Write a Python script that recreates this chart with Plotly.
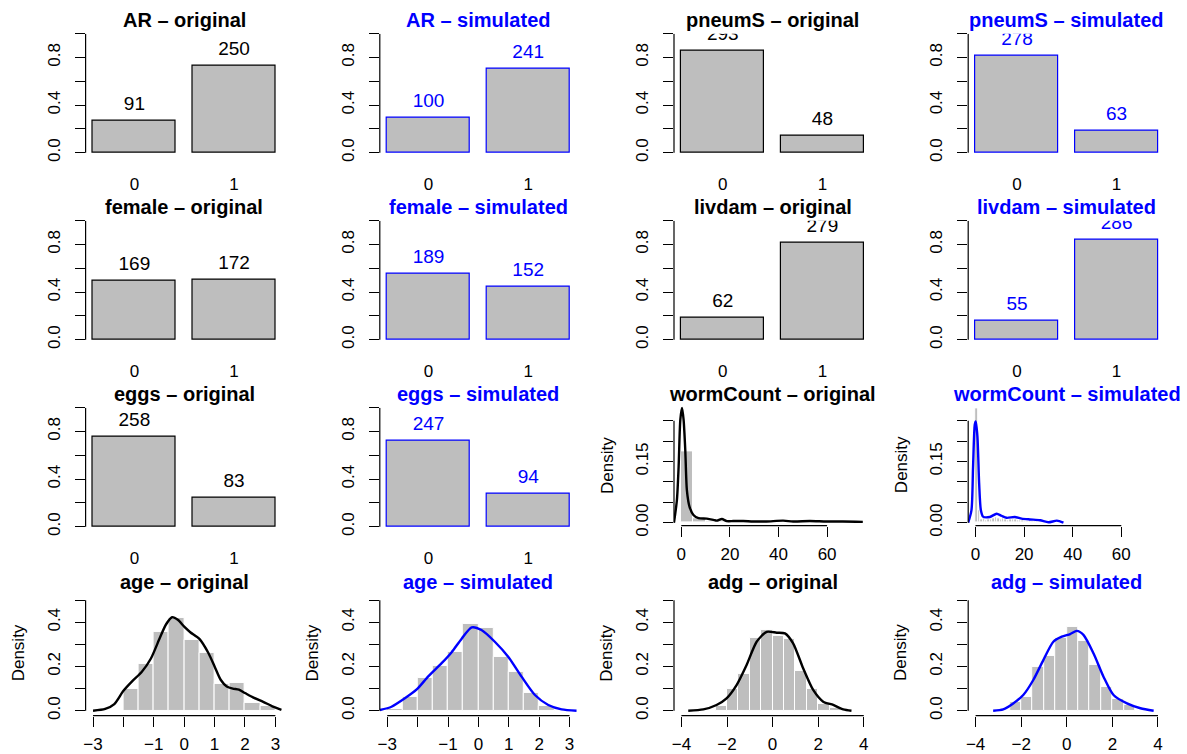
import plotly.graph_objects as go

# ---------------- data ----------------
levels = ["0", "1"]

AR_original = [91, 250]
AR_simulated = [100, 241]
pneumS_original = [293, 48]
pneumS_simulated = [278, 63]
female_original = [169, 172]
female_simulated = [189, 152]
livdam_original = [62, 279]
livdam_simulated = [55, 286]
eggs_original = [258, 83]
eggs_simulated = [247, 94]

# histogram breaks / densities
wormCount_original_breaks = [0, 5, 10, 15, 20, 25, 30, 35, 40, 45, 50, 55, 60, 65, 70, 75]
wormCount_original_hist = [0.174, 0.010, 0.004, 0.004, 0.002, 0.001, 0.0006, 0.0006,
                           0.0012, 0.0006, 0.0006, 0.0006, 0.0003, 0.0003, 0.0003]
wormCount_simulated_breaks = list(range(0, 37))
wormCount_simulated_hist = [0.281, 0.030, 0.008, 0.010, 0.006, 0.009, 0.007, 0.010, 0.012,
                            0.011, 0.009, 0.010, 0.007, 0.006, 0.009, 0.008, 0.009, 0.006,
                            0.005, 0.006, 0.004, 0.004, 0.005, 0.003, 0.003, 0.003, 0.003,
                            0.002, 0.001, 0.001, 0.002, 0.002, 0.003, 0.002, 0.001, 0.001]
age_original_breaks = [-2.0, -1.5, -1.0, -0.5, 0.0, 0.5, 1.0, 1.5, 2.0, 2.5, 3.0]
age_original_hist = [0.098, 0.213, 0.356, 0.421, 0.320, 0.261, 0.119, 0.125, 0.033, 0.021]
age_simulated_breaks = [-3.0, -2.5, -2.0, -1.5, -1.0, -0.5, 0.0, 0.5, 1.0, 1.5, 2.0, 2.5]
age_simulated_hist = [0.006, 0.063, 0.147, 0.202, 0.267, 0.392, 0.373, 0.244, 0.174, 0.079, 0.021]
adg_original_breaks = [-2.5, -2.0, -1.5, -1.0, -0.5, 0.0, 0.5, 1.0, 1.5, 2.0, 2.5, 3.0]
adg_original_hist = [0.021, 0.098, 0.166, 0.330, 0.365, 0.339, 0.324, 0.180, 0.098, 0.029, 0.011]
adg_simulated_breaks = [-2.5, -2.0, -1.5, -1.0, -0.5, 0.0, 0.5, 1.0, 1.5, 2.0, 2.5, 3.0]
adg_simulated_hist = [0.041, 0.063, 0.196, 0.248, 0.328, 0.377, 0.315, 0.207, 0.109, 0.052, 0.026]

# kernel density curves
wormCount_original_kde_x = [-3.0, -1.8, -1.1, -0.4, 0.3, 0.95, 1.64, 2.3, 3.4, 5.0, 7.1, 10.5,
                            13.2, 14.6, 16.7, 18.7, 21.4, 25.5, 29.6, 35.0, 41.9, 46.0, 52.9,
                            59.7, 66.5, 74.7]
wormCount_original_kde_y = [0.0, 0.056, 0.137, 0.252, 0.281, 0.252, 0.178, 0.080, 0.039, 0.019,
                            0.011, 0.010, 0.007, 0.005, 0.009, 0.004, 0.004, 0.004, 0.003, 0.003,
                            0.005, 0.003, 0.004, 0.003, 0.003, 0.002]
wormCount_simulated_kde_x = [-3.0, -1.65, -1.0, -0.3, 0.1, 0.8, 1.5, 2.2, 3.1, 5.9, 8.7, 10.7,
                             12.8, 16.2, 19.0, 22.4, 26.6, 30.0, 33.5, 36.2]
wormCount_simulated_kde_y = [0.0, 0.031, 0.137, 0.240, 0.248, 0.211, 0.097, 0.031, 0.015, 0.014,
                             0.022, 0.017, 0.012, 0.014, 0.010, 0.008, 0.006, 0.001, 0.005, 0.0]
age_original_kde_x = [-3.0, -2.6, -2.3, -2.0, -1.7, -1.4, -1.1, -0.8, -0.6, -0.4, -0.2, 0.0,
                      0.2, 0.5, 0.8, 1.0, 1.2, 1.4, 1.6, 1.8, 2.0, 2.3, 2.6, 2.9, 3.2]
age_original_kde_y = [0.0, 0.008, 0.030, 0.090, 0.135, 0.175, 0.235, 0.330, 0.390, 0.423, 0.410,
                      0.380, 0.355, 0.325, 0.260, 0.200, 0.140, 0.110, 0.100, 0.095, 0.080,
                      0.058, 0.040, 0.020, 0.004]
age_simulated_kde_x = [-3.24, -2.86, -2.42, -2.03, -1.65, -1.21, -0.88, -0.55, -0.22, 0.1, 0.54,
                       0.98, 1.42, 1.86, 2.3, 2.74, 3.23]
age_simulated_kde_y = [0.003, 0.018, 0.056, 0.096, 0.155, 0.215, 0.265, 0.326, 0.377, 0.365, 0.312,
                       0.244, 0.154, 0.071, 0.026, 0.006, 0.0]
adg_original_kde_x = [-3.7, -3.04, -2.46, -2.02, -1.58, -1.14, -0.7, -0.26, 0.18, 0.54, 0.9, 1.34,
                      1.78, 2.22, 2.66, 3.1, 3.46]
adg_original_kde_y = [0.0, 0.006, 0.026, 0.056, 0.116, 0.207, 0.312, 0.357, 0.353, 0.350, 0.305,
                      0.192, 0.094, 0.041, 0.026, 0.006, 0.0]
adg_simulated_kde_x = [-3.23, -2.79, -2.35, -1.91, -1.47, -1.03, -0.59, -0.22, 0.15, 0.44, 0.73,
                       1.17, 1.61, 2.05, 2.64, 3.23, 3.81]
adg_simulated_kde_y = [0.0, 0.006, 0.033, 0.071, 0.139, 0.229, 0.312, 0.335, 0.347, 0.361, 0.343,
                       0.260, 0.154, 0.071, 0.033, 0.011, 0.0]

# axis ticks
bar_yticks = [0.0, 0.2, 0.4, 0.6, 0.8, 1.0]
bar_yticklabels = ["0.0", "", "0.4", "", "0.8", ""]
worm_xticks = [0, 20, 40, 60]
worm_xticklabels = ["0", "20", "40", "60"]
worm_yticks = [0.0, 0.05, 0.10, 0.15, 0.20, 0.25]
worm_yticklabels = ["0.00", "", "", "0.15", "", ""]
age_xticks = [-3, -2, -1, 0, 1, 2, 3]
age_xticklabels = ["\u22123", "", "\u22121", "0", "1", "2", "3"]
adg_xticks = [-4, -2, 0, 2, 4]
adg_xticklabels = ["\u22124", "\u22122", "0", "2", "4"]
dens_yticks = [0.0, 0.1, 0.2, 0.3, 0.4, 0.5]
dens_yticklabels = ["0.0", "", "0.2", "", "0.4", ""]

# ---------------- style / geometry ----------------
FIG_W, FIG_H = 1187, 754
COL_PITCH, ROW_PITCH = 294.2, 187.0
LEFT0, PLOT_W = 85.6, 197.2
GREY, BLUE, BLACK = "#BEBEBE", "#0000FF", "#000000"
FONT = "Liberation Sans, Arial, sans-serif"
AX_FS, TITLE_FS, VAL_FS = 17, 20, 19
LW = 1.2

fig = go.Figure()
layout = {}
shapes = []
annotations = []


def fx(p):
    return p / FIG_W


def fy(p):
    return 1 - p / FIG_H


def panel(r, c, yrange, top_px, bottom_px, xaxis_extra, yaxis_extra, title, color):
    n = r * 4 + c + 1
    sfx = "" if n == 1 else str(n)
    left = LEFT0 + c * COL_PITCH
    layout["xaxis" + sfx] = dict(domain=[fx(left), fx(left + PLOT_W)], anchor="y" + sfx,
                                 showgrid=False, zeroline=False, showline=False,
                                 automargin=False,
                                 tickfont=dict(family=FONT, size=AX_FS, color=BLACK),
                                 tickcolor=BLACK, tickwidth=LW, **xaxis_extra)
    layout["yaxis" + sfx] = dict(domain=[fy(bottom_px), fy(top_px)], anchor="x" + sfx,
                                 range=yrange, showgrid=False, zeroline=False, showline=False,
                                 automargin=False,
                                 ticks="outside", ticklen=10, tickcolor=BLACK, tickwidth=LW,
                                 tickangle=-90, ticklabelstandoff=8,
                                 tickfont=dict(family=FONT, size=AX_FS, color=BLACK),
                                 **yaxis_extra)
    annotations.append(dict(text="<b>" + title + "</b>", xref="paper", yref="paper",
                            x=fx(left + PLOT_W / 2), y=fy(20.5 + r * ROW_PITCH),
                            xanchor="center", yanchor="middle", showarrow=False,
                            font=dict(family=FONT, size=TITLE_FS, color=color)))
    yvals = yaxis_extra["tickvals"]
    shapes.append(dict(type="line", xref="x%s domain" % sfx, yref="y" + sfx,
                       x0=0, x1=0, y0=yvals[0], y1=yvals[-1],
                       line=dict(color=BLACK, width=LW)))
    return "x" + sfx, "y" + sfx, left, top_px, bottom_px


def bar_panel(r, c, name, counts, original):
    color = BLACK if original else BLUE
    total = sum(counts)
    props = [v / total for v in counts]
    zero = 152.7 + r * ROW_PITCH
    scale = 119.0
    ytop = 1.0
    top, bottom = zero - ytop * scale, zero + 0.04 * scale
    xr, yr, *_ = panel(r, c, [-0.04, ytop], top, bottom,
                       dict(type="category", range=[-0.49, 1.49], ticks="", ticklen=0,
                            ticklabelstandoff=15),
                       dict(tickvals=bar_yticks, ticktext=bar_yticklabels),
                       name + " \u2013 " + ("original" if original else "simulated"), color)
    fig.add_trace(go.Bar(x=levels, y=props, width=1 / 1.2, xaxis=xr, yaxis=yr,
                         marker=dict(color=GREY, line=dict(color=color, width=LW)),
                         hoverinfo="skip", showlegend=False))
    off = 15.5 / scale
    fig.add_trace(go.Scatter(x=levels, y=[p + off for p in props], text=[str(v) for v in counts],
                             mode="text", textposition="middle center", cliponaxis=True,
                             textfont=dict(family=FONT, size=VAL_FS, color=color),
                             xaxis=xr, yaxis=yr, hoverinfo="skip", showlegend=False))


def dens_panel(r, c, name, original, breaks, hist, kx, ky, xrange, xticks, xlabels,
               yticks, ylabels, zero, scale, bottom, ytop):
    color = BLACK if original else BLUE
    top = zero - ytop * scale
    yrange = [(zero - bottom) / scale, ytop]
    xr, yr, left, top, bottom = panel(
        r, c, yrange, top, bottom,
        dict(range=xrange, tickvals=xticks, ticktext=xlabels, ticks="outside", ticklen=10,
             ticklabelstandoff=3),
        dict(tickvals=yticks, ticktext=ylabels),
        name + " \u2013 " + ("original" if original else "simulated"), color)
    sfx = xr[1:]
    shapes.append(dict(type="line", xref=xr, yref="y%s domain" % sfx,
                       x0=xticks[0], x1=xticks[-1], y0=0, y1=0,
                       line=dict(color=BLACK, width=LW)))
    annotations.append(dict(text="Density", textangle=-90, xref="paper", yref="paper",
                            x=fx(18.5 + c * COL_PITCH), y=fy((top + bottom) / 2),
                            xanchor="center", yanchor="middle", showarrow=False,
                            font=dict(family=FONT, size=AX_FS, color=BLACK)))
    centers = [(a + b) / 2 for a, b in zip(breaks[:-1], breaks[1:])]
    widths = [b - a for a, b in zip(breaks[:-1], breaks[1:])]
    fig.add_trace(go.Bar(x=centers, y=hist, width=widths, xaxis=xr, yaxis=yr,
                         marker=dict(color=GREY, line=dict(color="white", width=1)),
                         hoverinfo="skip", showlegend=False))
    fig.add_trace(go.Scatter(x=kx, y=ky, mode="lines", xaxis=xr, yaxis=yr,
                             line=dict(color=color, width=2.4, shape="spline", smoothing=0.7),
                             hoverinfo="skip", showlegend=False))


bar_rows = [
    (0, 0, "AR", AR_original, True), (0, 1, "AR", AR_simulated, False),
    (0, 2, "pneumS", pneumS_original, True), (0, 3, "pneumS", pneumS_simulated, False),
    (1, 0, "female", female_original, True), (1, 1, "female", female_simulated, False),
    (1, 2, "livdam", livdam_original, True), (1, 3, "livdam", livdam_simulated, False),
    (2, 0, "eggs", eggs_original, True), (2, 1, "eggs", eggs_simulated, False),
]
for r, c, nm, cnt, orig in bar_rows:
    bar_panel(r, c, nm, cnt, orig)

WORM_X = [-3.0, -3.0 + PLOT_W / 2.43]
AGE_X = [-3.245, 3.245]
ADG_X = [-4.325, 4.325]

dens_panel(2, 2, "wormCount", True, wormCount_original_breaks, wormCount_original_hist,
           wormCount_original_kde_x, wormCount_original_kde_y, WORM_X, worm_xticks,
           worm_xticklabels, worm_yticks, worm_yticklabels, 522.7, 408.0, 525.7, 0.29)
dens_panel(2, 3, "wormCount", False, wormCount_simulated_breaks, wormCount_simulated_hist,
           wormCount_simulated_kde_x, wormCount_simulated_kde_y, WORM_X, worm_xticks,
           worm_xticklabels, worm_yticks, worm_yticklabels, 522.7, 408.0, 525.7, 0.29)
dens_panel(3, 0, "age", True, age_original_breaks, age_original_hist,
           age_original_kde_x, age_original_kde_y, AGE_X, age_xticks, age_xticklabels,
           dens_yticks, dens_yticklabels, 710.7, 221.0, 715.7, 0.5464)
dens_panel(3, 1, "age", False, age_simulated_breaks, age_simulated_hist,
           age_simulated_kde_x, age_simulated_kde_y, AGE_X, age_xticks, age_xticklabels,
           dens_yticks, dens_yticklabels, 710.7, 221.0, 715.7, 0.5464)
dens_panel(3, 2, "adg", True, adg_original_breaks, adg_original_hist,
           adg_original_kde_x, adg_original_kde_y, ADG_X, adg_xticks, adg_xticklabels,
           dens_yticks, dens_yticklabels, 710.7, 221.0, 715.7, 0.5464)
dens_panel(3, 3, "adg", False, adg_simulated_breaks, adg_simulated_hist,
           adg_simulated_kde_x, adg_simulated_kde_y, ADG_X, adg_xticks, adg_xticklabels,
           dens_yticks, dens_yticklabels, 710.7, 221.0, 715.7, 0.5464)

fig.update_layout(template="none", width=FIG_W, height=FIG_H,
                  margin=dict(l=0, r=0, t=0, b=0, autoexpand=False),
                  paper_bgcolor="white", plot_bgcolor="white", showlegend=False,
                  bargap=0, shapes=shapes, annotations=annotations,
                  font=dict(family=FONT, size=AX_FS, color=BLACK), **layout)
fig.write_html("out.html")
